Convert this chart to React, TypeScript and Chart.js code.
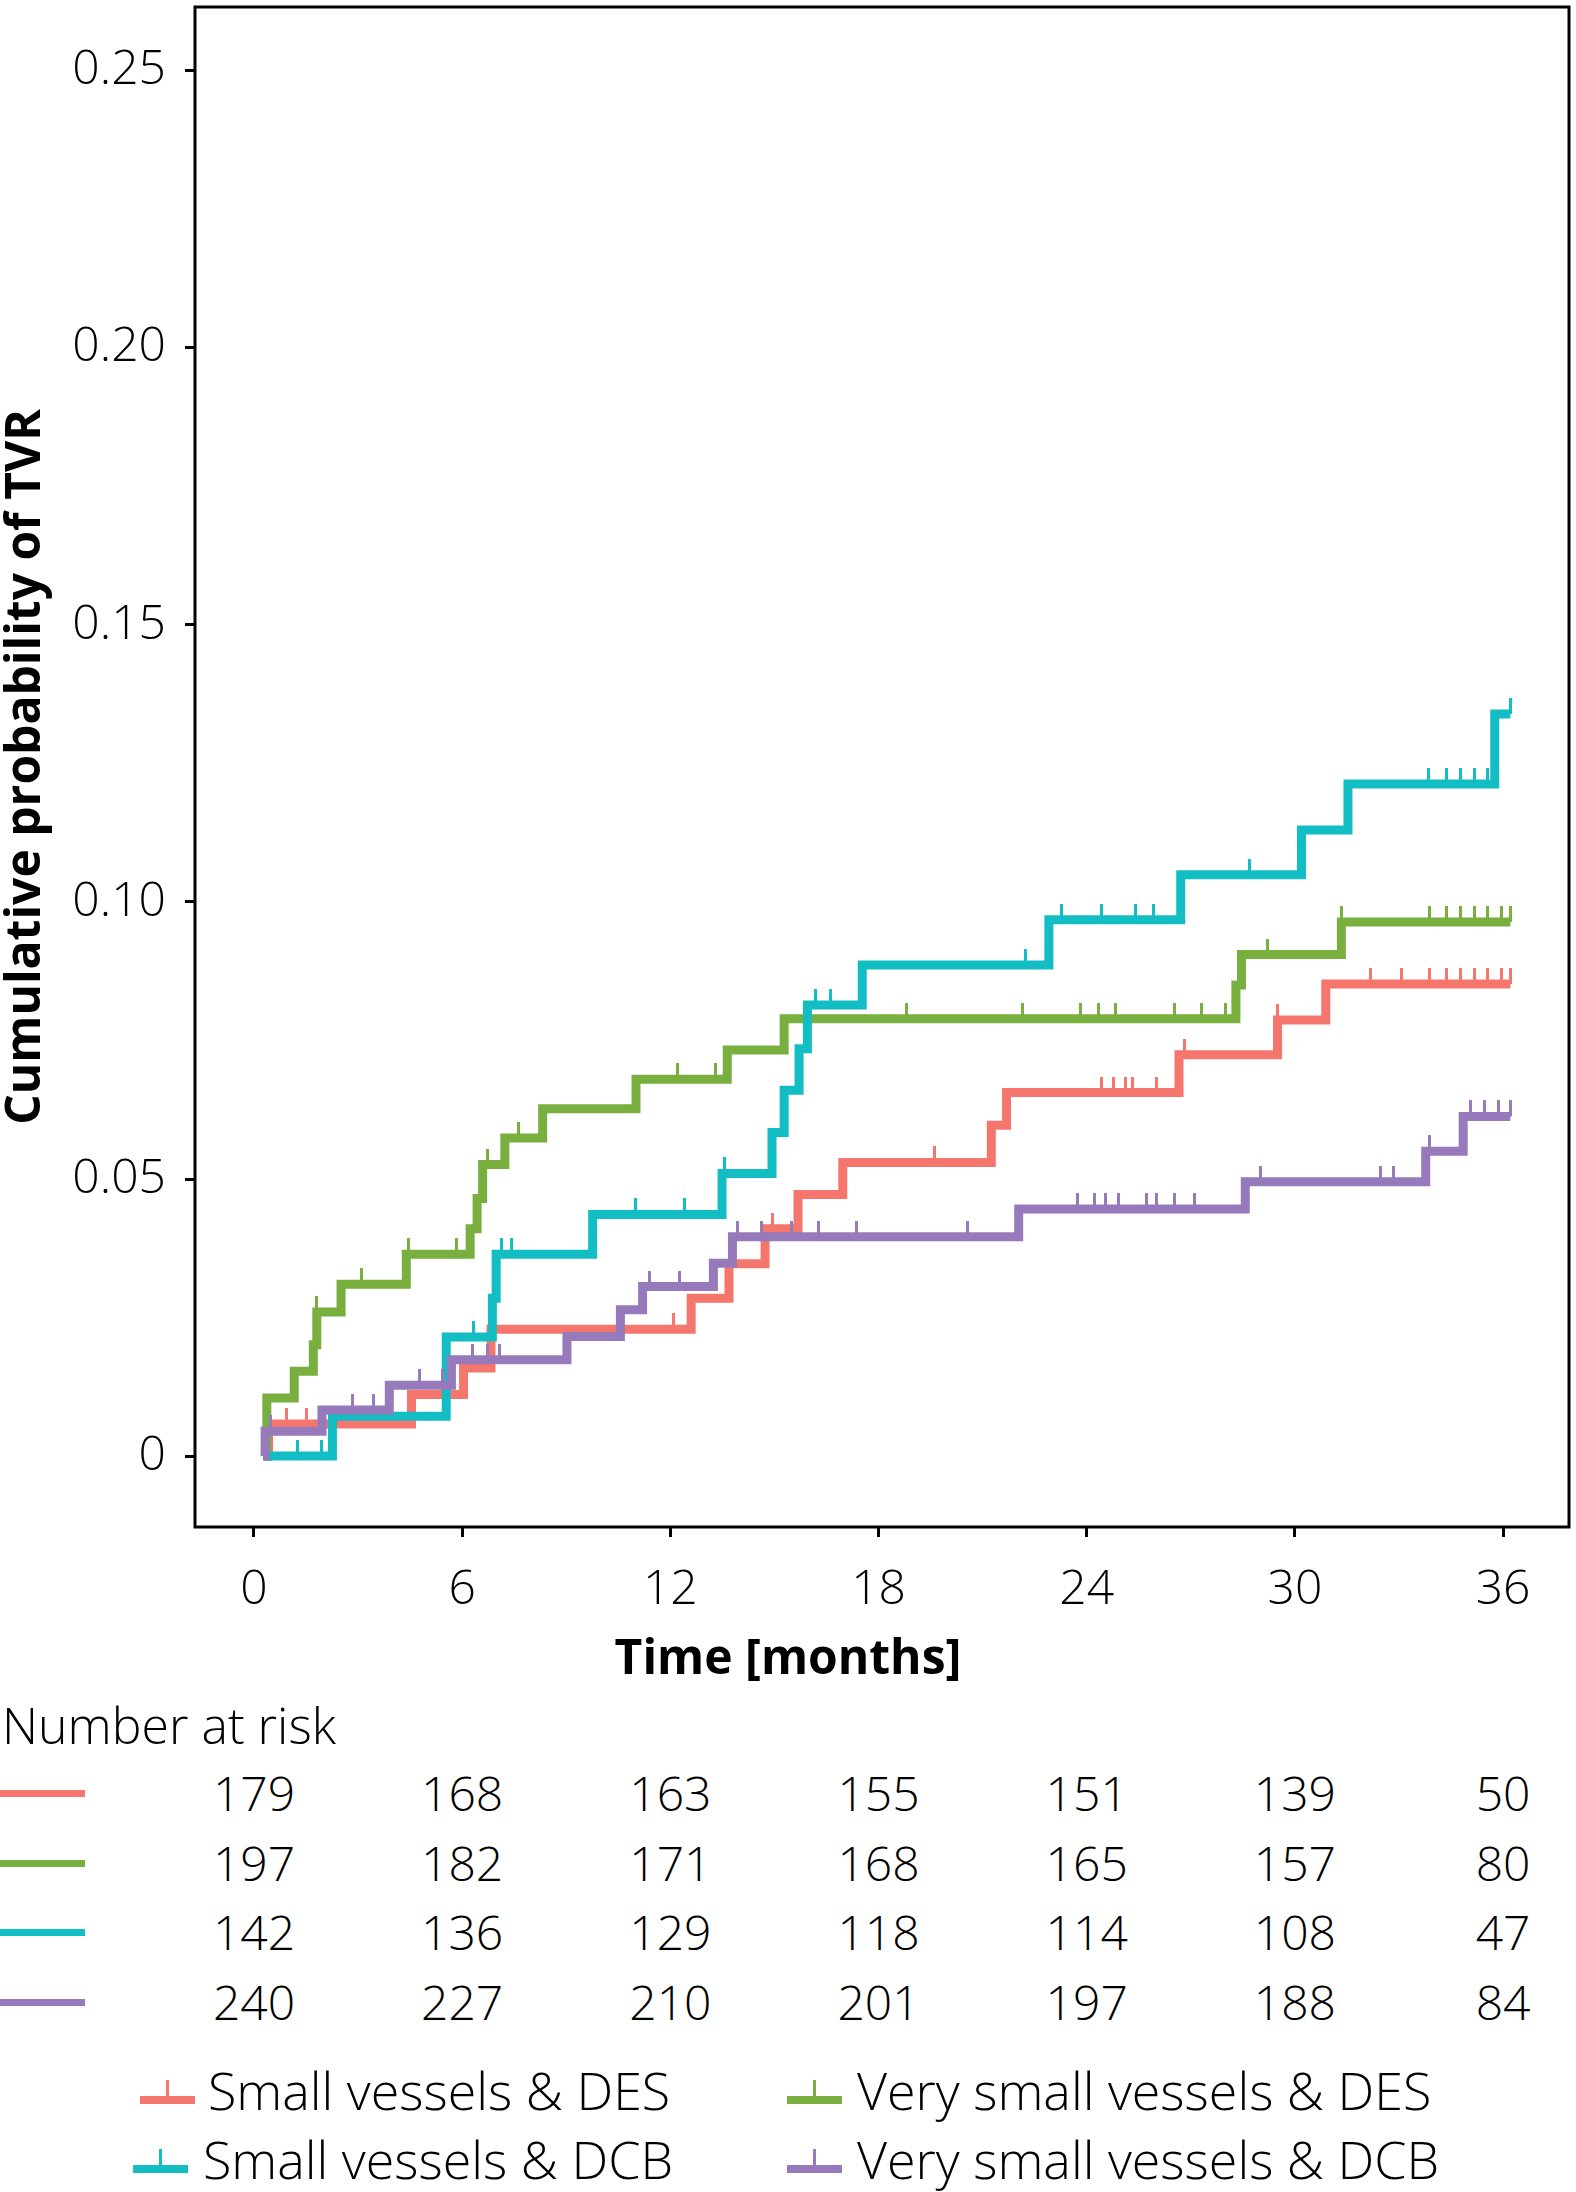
import React, { useEffect, useRef, useState } from 'react';
import { Chart, registerables } from 'chart.js';

Chart.register(...registerables);

// ---------- axis ticks ----------
const TIME_TICKS = [0, 6, 12, 18, 24, 30, 36];
const PROB_TICKS = [0, 0.05, 0.1, 0.15, 0.2, 0.25];

// ---------- groups ----------
const GROUP_NAMES = [
  'Small vessels & DES',
  'Very small vessels & DES',
  'Small vessels & DCB',
  'Very small vessels & DCB',
];
const GROUP_COLORS = ['#F5766C', '#78AF3E', '#12BDC3', '#967ABB'];

// ---------- Kaplan-Meier cumulative incidence steps (months, probability after jump) ----------
const smallDesTimes = [0.27, 0.42, 4.54, 6.04, 6.83, 12.6, 13.69, 14.73, 15.68, 16.97, 21.25, 21.69, 26.66, 29.5, 30.89, 36.21];
const smallDesProb = [0, 0.0058, 0.0111, 0.0159, 0.0229, 0.0285, 0.0347, 0.041, 0.0472, 0.053, 0.0597, 0.0656, 0.0724, 0.0787, 0.0852, 0.0852];
const smallDesCensor = [0.94, 1.51, 2.55, 2.95, 6.88, 12.1, 14.93, 19.6, 24.43, 24.78, 25.12, 25.32, 26.02, 26.81, 29.5, 32.18, 33.08, 33.87, 34.37, 34.77, 35.17, 35.56, 35.96, 36.21];

const verySmallDesTimes = [0.27, 0.37, 1.16, 1.71, 1.81, 2.51, 4.39, 6.23, 6.43, 6.59, 7.23, 8.32, 11.01, 13.64, 15.28, 28.3, 28.46, 31.34, 36.21];
const verySmallDesProb = [0, 0.0105, 0.0153, 0.0201, 0.026, 0.031, 0.0364, 0.041, 0.0465, 0.0526, 0.0574, 0.0627, 0.068, 0.0733, 0.0789, 0.085, 0.0905, 0.0964, 0.0964];
const verySmallDesCensor = [0.32, 1.81, 3.1, 4.44, 5.84, 6.73, 7.63, 12.2, 13.29, 18.82, 22.14, 23.83, 24.33, 24.83, 26.52, 27.31, 28.01, 29.2, 31.34, 33.87, 34.37, 34.77, 35.17, 35.56, 35.96, 36.21];

const smallDcbTimes = [0.27, 2.26, 5.54, 6.87, 6.98, 9.76, 13.49, 14.93, 15.28, 15.71, 15.95, 17.53, 22.91, 26.71, 30.19, 31.53, 35.76, 36.21];
const smallDcbProb = [0, 0.0072, 0.0215, 0.0285, 0.0364, 0.0436, 0.051, 0.0584, 0.066, 0.0735, 0.0814, 0.0886, 0.0968, 0.1049, 0.113, 0.1213, 0.1339, 0.1339];
const smallDcbCensor = [1.26, 1.96, 6.33, 7.13, 7.43, 11.01, 12.4, 13.55, 16.18, 16.62, 22.24, 23.28, 24.43, 25.42, 25.92, 28.7, 33.84, 34.37, 34.77, 35.17, 35.56, 36.21];

const verySmallDcbTimes = [0.27, 0.32, 1.96, 3.9, 5.69, 9.02, 10.56, 11.2, 13.24, 13.79, 22.04, 28.57, 33.77, 34.85, 36.21];
const verySmallDcbProb = [0, 0.0045, 0.0083, 0.0128, 0.0174, 0.0216, 0.0264, 0.0306, 0.0348, 0.0396, 0.0446, 0.0495, 0.055, 0.0613, 0.0613];
const verySmallDcbCensor = [0.47, 2.85, 3.45, 4.77, 5.44, 6.3, 6.73, 7.08, 11.4, 12.26, 13.93, 14.64, 15.48, 16.27, 17.37, 20.55, 23.73, 24.23, 24.53, 24.93, 25.72, 26.02, 26.52, 27.11, 29.0, 32.48, 32.83, 33.87, 35.07, 35.46, 35.86, 36.21];

// ---------- number at risk ----------
const riskSmallDes = [179, 168, 163, 155, 151, 139, 50];
const riskVerySmallDes = [197, 182, 171, 168, 165, 157, 80];
const riskSmallDcb = [142, 136, 129, 118, 114, 108, 47];
const riskVerySmallDcb = [240, 227, 210, 201, 197, 188, 84];

const CURVE_TIMES = [smallDesTimes, verySmallDesTimes, smallDcbTimes, verySmallDcbTimes];
const CURVE_PROBS = [smallDesProb, verySmallDesProb, smallDcbProb, verySmallDcbProb];
const CURVE_CENSOR = [smallDesCensor, verySmallDesCensor, smallDcbCensor, verySmallDcbCensor];
const RISK_ROWS = [riskSmallDes, riskVerySmallDes, riskSmallDcb, riskVerySmallDcb];

// ---------- layout ----------
const W = 1576;
const H = 2192;
const CANVAS_H = 1630;
const PLOT_LEFT = 195;
const PLOT_TOP = 3;
const PLOT_RIGHT_PAD = 4;
const PLOT_BOTTOM = 1527;
const FONT = "'Open Sans', 'Noto Sans', sans-serif";

function stepValue(times: number[], probs: number[], t: number) {
  let v = probs[0];
  for (let i = 0; i < times.length; i++) if (times[i] <= t) v = probs[i];
  return v;
}

function censorGlyph(color: string) {
  const c = document.createElement('canvas');
  c.width = 3;
  c.height = 32;
  const g = c.getContext('2d')!;
  g.fillStyle = color;
  g.fillRect(0, 0, 3, 16);
  return c;
}

const boxPlugin = {
  id: 'boxBorder',
  afterDraw(chart: any) {
    const { ctx, chartArea } = chart;
    ctx.save();
    ctx.strokeStyle = '#000';
    ctx.lineWidth = 3;
    ctx.strokeRect(chartArea.left, chartArea.top, chartArea.right - chartArea.left, chartArea.bottom - chartArea.top);
    ctx.restore();
  },
};

export default function App() {
  const canvasRef = useRef<HTMLCanvasElement | null>(null);
  const [cols, setCols] = useState<number[]>(TIME_TICKS.map((t) => 254 + t * 34.75));

  useEffect(() => {
    if (!canvasRef.current) return;
    const datasets: any[] = [];
    for (let g = 0; g < 4; g++) {
      const color = GROUP_COLORS[g];
      datasets.push({
        label: GROUP_NAMES[g],
        data: CURVE_TIMES[g].map((t, i) => ({ x: t, y: CURVE_PROBS[g][i] })),
        borderColor: color,
        backgroundColor: color,
        borderWidth: 9,
        stepped: 'before',
        pointRadius: 0,
        fill: false,
        borderCapStyle: 'butt',
        borderJoinStyle: 'miter',
        order: 10 - 2 * g,
      });
      datasets.push({
        label: GROUP_NAMES[g] + ' censored',
        data: CURVE_CENSOR[g].map((t) => ({ x: t, y: stepValue(CURVE_TIMES[g], CURVE_PROBS[g], t) })),
        showLine: false,
        pointStyle: censorGlyph(color),
        pointRadius: 6,
        borderColor: color,
        backgroundColor: color,
        order: 9 - 2 * g,
      });
    }

    const tickFont = { family: FONT, size: 48, weight: '300' as any };
    const chart = new Chart(canvasRef.current, {
      type: 'line',
      data: { datasets },
      plugins: [boxPlugin],
      options: {
        animation: false,
        responsive: false,
        layout: { padding: { left: 0, top: PLOT_TOP, right: PLOT_RIGHT_PAD, bottom: 0 } },
        plugins: { legend: { display: false }, tooltip: { enabled: false } },
        scales: {
          x: {
            type: 'linear',
            min: -1.7,
            max: 37.9,
            afterBuildTicks: (s: any) => {
              s.ticks = TIME_TICKS.map((v) => ({ value: v }));
            },
            afterFit: (s: any) => {
              s.height = CANVAS_H - PLOT_BOTTOM;
              s.paddingLeft = 0;
              s.paddingRight = 0;
            },
            ticks: {
              font: tickFont,
              color: '#000',
              padding: 25,
              autoSkip: false,
              maxRotation: 0,
              callback: (v: any) => String(v),
            },
            grid: { display: true, drawOnChartArea: false, drawTicks: true, tickLength: 10, tickWidth: 3, tickColor: '#000' },
            border: { display: false },
          },
          y: {
            type: 'linear',
            min: -0.0128,
            max: 0.2615,
            afterBuildTicks: (s: any) => {
              s.ticks = PROB_TICKS.map((v) => ({ value: v }));
            },
            afterFit: (s: any) => {
              s.width = PLOT_LEFT;
              s.paddingTop = 0;
              s.paddingBottom = 0;
            },
            ticks: {
              font: tickFont,
              color: '#000',
              padding: 19,
              callback: (v: any) => (Number(v) === 0 ? '0' : Number(v).toFixed(2)),
            },
            grid: { display: true, drawOnChartArea: false, drawTicks: true, tickLength: 10, tickWidth: 3, tickColor: '#000' },
            border: { display: false },
            title: {
              display: true,
              text: 'Cumulative probability of TVR',
              color: '#000',
              font: { family: FONT, size: 48, weight: 'bold', lineHeight: 1.1 },
              padding: 0,
            },
          },
        },
      } as any,
    });
    const xs = chart.scales.x;
    setCols(TIME_TICKS.map((t) => xs.getPixelForValue(t)));
    return () => chart.destroy();
  }, []);

  const textBase: React.CSSProperties = {
    position: 'absolute',
    fontFamily: FONT,
    fontWeight: 300,
    fontSize: 48,
    lineHeight: '48px',
    color: '#000',
    whiteSpace: 'nowrap',
  };
  const rowY = [1793, 1863, 1932, 2002];
  const legendItems = [
    { g: 0, sx: 140, tx: 208, cy: 2090 },
    { g: 1, sx: 787, tx: 857, cy: 2090 },
    { g: 2, sx: 133, tx: 203, cy: 2159 },
    { g: 3, sx: 787, tx: 857, cy: 2159 },
  ];

  return (
    <div style={{ position: 'absolute', left: 0, top: 0, width: W, height: H, background: '#fff', overflow: 'hidden' }}>
      <canvas ref={canvasRef} width={W} height={CANVAS_H} style={{ position: 'absolute', left: 0, top: 0, width: W, height: CANVAS_H }} />
      <div style={{ ...textBase, fontWeight: 700, left: 788, top: 1656, transform: 'translate(-50%, -50%)' }}>Time [months]</div>
      <div style={{ ...textBase, fontSize: 50, left: 2, top: 1725, transform: 'translateY(-50%)' }}>Number at risk</div>
      {RISK_ROWS.map((row, r) => (
        <React.Fragment key={'r' + r}>
          <div style={{ position: 'absolute', left: 0, width: 85, height: 7, top: rowY[r] - 3, background: GROUP_COLORS[r] }} />
          {row.map((n, i) => (
            <div key={i} style={{ ...textBase, left: cols[i], top: rowY[r], transform: 'translate(-50%, -50%)' }}>
              {n}
            </div>
          ))}
        </React.Fragment>
      ))}
      {legendItems.map((it) => (
        <React.Fragment key={'l' + it.g}>
          <div style={{ position: 'absolute', left: it.sx, top: it.cy + 6, width: 55, height: 8, background: GROUP_COLORS[it.g] }} />
          <div style={{ position: 'absolute', left: it.sx + 26, top: it.cy - 10, width: 3, height: 16, background: GROUP_COLORS[it.g] }} />
          <div style={{ ...textBase, fontSize: 52, lineHeight: '52px', left: it.tx, top: it.cy, transform: 'translateY(-50%)' }}>{GROUP_NAMES[it.g]}</div>
        </React.Fragment>
      ))}
    </div>
  );
}
